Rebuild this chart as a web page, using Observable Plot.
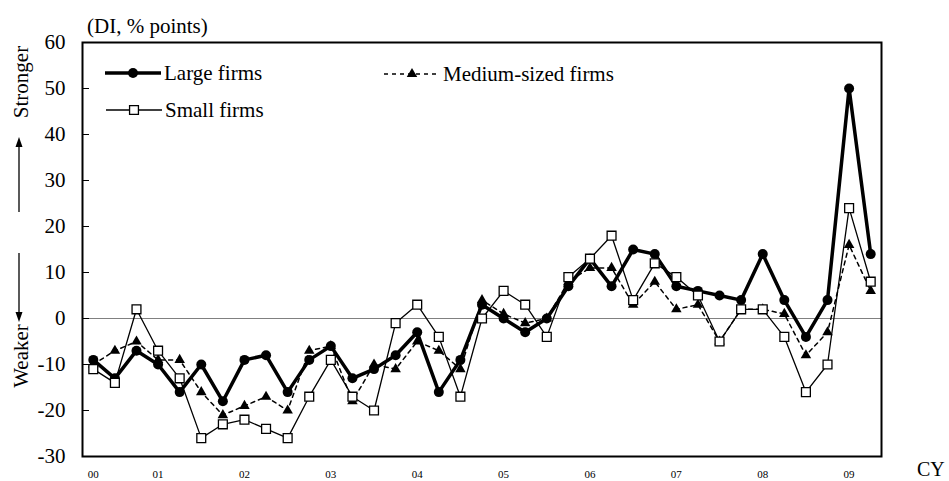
<!DOCTYPE html>
<html><head><meta charset="utf-8">
<script src="https://cdn.jsdelivr.net/npm/d3@7"></script>
<script src="https://cdn.jsdelivr.net/npm/@observablehq/plot@0.6"></script>
<style>body{margin:0;background:#fff} #chart{width:949px;height:481px} #chart svg, #chart svg text{font-family:"Liberation Serif","Times New Roman","DejaVu Serif",serif !important}</style>
</head><body><div id="chart"></div>
<script>
const yearLabels = ["00","01","02","03","04","05","06","07","08","09"];
const yearTickIndex = [0,3,7,11,15,19,23,27,31,35];
const yTicks = [-30,-20,-10,0,10,20,30,40,50,60];
const seriesNames = ["Large firms","Medium-sized firms","Small firms"];
const large  = [-9,-13,-7,-10,-16,-10,-18,-9,-8,-16,-9,-6,-13,-11,-8,-3,-16,-9,3,0,-3,0,7,13,7,15,14,7,6,5,4,14,4,-4,4,50,14];
const medium = [-10,-7,-5,-9,-9,-16,-21,-19,-17,-20,-7,-6,-18,-10,-11,-5,-7,-11,4,1,-1,0,8,11,11,3,8,2,3,-5,2,2,1,-8,-3,16,6];
const small  = [-11,-14,2,-7,-13,-26,-23,-22,-24,-26,-17,-9,-17,-20,-1,3,-4,-17,0,6,3,-4,9,13,18,4,12,9,5,-5,2,2,-4,-16,-10,24,8];

const rows = (vals, name) => vals.map((v, i) => ({i, v, name}));
const largeRows = rows(large, seriesNames[0]);
const mediumRows = rows(medium, seriesNames[1]);
const smallRows = rows(small, seriesNames[2]);
const labelOf = new Map(yearTickIndex.map((d, k) => [d, yearLabels[k]]));
const FONT = '"Liberation Serif", "Times New Roman", serif';
const FS = 21;

function decorations(index, scales, values, dims) {
  const g = d3.create("svg:g").attr("font-size", FS).attr("fill", "black").attr("text-anchor", "start");
  // arrows and direction words on the left
  const ax = 19;
  g.append("line").attr("x1", ax).attr("x2", ax).attr("y1", 212).attr("y2", 146).attr("stroke", "black").attr("stroke-width", 1.3);
  g.append("path").attr("d", `M${ax},137L${ax-3.5},147L${ax+3.5},147Z`).attr("fill", "black");
  g.append("line").attr("x1", ax).attr("x2", ax).attr("y1", 253).attr("y2", 313).attr("stroke", "black").attr("stroke-width", 1.3);
  g.append("path").attr("d", `M${ax},322L${ax-3.5},312L${ax+3.5},312Z`).attr("fill", "black");
  g.append("text").attr("transform", "translate(21,82) rotate(-90)").attr("text-anchor", "middle").attr("dy", "0.35em").text("Stronger");
  g.append("text").attr("transform", "translate(21,356) rotate(-90)").attr("text-anchor", "middle").attr("dy", "0.35em").text("Weaker");
  g.append("text").attr("x", 87).attr("y", 33).text("(DI, % points)");
  g.append("text").attr("x", 917).attr("y", 470).attr("dy", "0.3em").attr("font-size", 20).text("CY");
  // legend
  const items = [
    {name: seriesNames[0], x0: 105, y: 73, sym: d3.symbolCircle, r: 5, fill: "black", sw: 3.5, dash: null},
    {name: seriesNames[1], x0: 384, y: 74, sym: d3.symbolTriangle, r: 3.9, fill: "black", sw: 1.5, dash: "4,4"},
    {name: seriesNames[2], x0: 106, y: 110, sym: d3.symbolSquare, r: 5, fill: "white", sw: 1.3, dash: null}
  ];
  for (const it of items) {
    g.append("line").attr("x1", it.x0).attr("x2", it.x0 + 56).attr("y1", it.y).attr("y2", it.y)
      .attr("stroke", "black").attr("stroke-width", it.sw).attr("stroke-dasharray", it.dash);
    g.append("path").attr("transform", `translate(${it.x0 + 28},${it.y})`)
      .attr("d", d3.symbol(it.sym, Math.PI * it.r * it.r)())
      .attr("fill", it.fill).attr("stroke", it.fill === "white" ? "black" : "none").attr("stroke-width", 1.3);
    g.append("text").attr("x", it.x0 + 59).attr("y", it.y).attr("dy", "0.35em").text(it.name);
  }
  return g.node();
}

const chart = Plot.plot({
  width: 949, height: 481,
  marginLeft: 82, marginRight: 68, marginTop: 42, marginBottom: 25,
  style: {fontFamily: FONT, background: "white", color: "black"},
  x: {domain: [-0.5, 36.5], axis: null, label: null},
  y: {domain: [-30, 60], axis: null, label: null},
  marks: [
    Plot.ruleY([0], {stroke: "#808080", strokeWidth: 1}),
    Plot.line(largeRows, {x: "i", y: "v", stroke: "black", strokeWidth: 3.5}),
    Plot.dot(largeRows, {x: "i", y: "v", symbol: "circle", r: 5, fill: "black"}),
    Plot.line(mediumRows, {x: "i", y: "v", stroke: "black", strokeWidth: 1.5, strokeDasharray: "4,4"}),
    Plot.dot(mediumRows, {x: "i", y: "v", symbol: "triangle", r: 3.9, fill: "black"}),
    Plot.line(smallRows, {x: "i", y: "v", stroke: "black", strokeWidth: 1.3}),
    Plot.dot(smallRows, {x: "i", y: "v", symbol: "square", r: 5, fill: "white", stroke: "black", strokeWidth: 1.3}),
    Plot.axisY(yTicks, {anchor: "left", label: null, tickSize: 7, dx: 7, tickPadding: 17, fontSize: FS, tickFormat: d => String(d)}),
    Plot.axisX(yearTickIndex, {anchor: "bottom", label: null, tickSize: 0, tickPadding: 14, fontSize: 11, tickFormat: d => labelOf.get(d)}),
    Plot.frame({stroke: "black", strokeWidth: 2}),
    decorations
  ]
});
document.getElementById("chart").appendChild(chart);
</script>
</body></html>
